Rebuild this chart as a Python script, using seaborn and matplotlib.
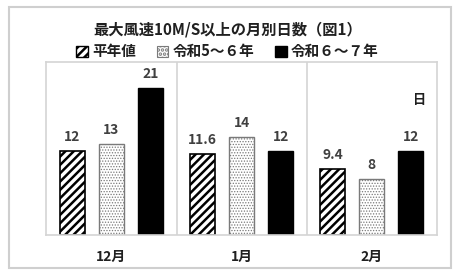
import matplotlib
matplotlib.use("Agg")
import matplotlib.pyplot as plt
import matplotlib.patches as mpatches
import seaborn as sns
import pandas as pd

months = ["12月", "1月", "2月"]
series = ["平年値", "令和5～６年", "令和６～７年"]
normal = [12, 11.6, 9.4]
r5_6 = [13, 14, 8]
r6_7 = [21, 12, 12]
value_labels = [["12", "11.6", "9.4"], ["13", "14", "8"], ["21", "12", "12"]]

sns.set_theme(style="white")
plt.rcParams["font.family"] = ["Noto Sans CJK JP", "DejaVu Sans"]
plt.rcParams["hatch.linewidth"] = 1.8

rows = []
for s, vals in zip(series, [normal, r5_6, r6_7]):
    for m, v in zip(months, vals):
        rows.append({"month": m, "series": s, "value": v})
df = pd.DataFrame(rows)

fig = plt.figure(figsize=(4.55, 2.78), dpi=100)
ax = fig.add_axes([0.102, 0.156, 0.858, 0.621])

sns.barplot(data=df, x="month", y="value", hue="series", order=months,
            hue_order=series, width=0.9, gap=0.37, ax=ax, legend=False,
            errorbar=None, palette=["white", "white", "black"], saturation=1)

styles = [
    dict(facecolor="white", edgecolor="black", hatch="////", lw=1.2, hlw=1.8),
    dict(facecolor="white", edgecolor="#7a7a7a", hatch="......", lw=1.0, hlw=0.6),
    dict(facecolor="black", edgecolor="black", hatch=None, lw=1.0, hlw=1.0),
]
for cont, st in zip(ax.containers, styles):
    for p in cont:
        p.set_facecolor(st["facecolor"])
        p.set_edgecolor(st["edgecolor"])
        p.set_linewidth(st["lw"])
        if st["hatch"]:
            p.set_hatch(st["hatch"])
            if hasattr(p, "set_hatch_linewidth"):
                p.set_hatch_linewidth(st["hlw"])

for cont, labs in zip(ax.containers, value_labels):
    ax.bar_label(cont, labels=labs, padding=5, fontsize=10, fontweight="bold",
                 color="#404040")

ax.set_ylim(0, 24.7)
ax.set_xlim(-0.5, 2.5)
ax.set_yticks([])
ax.set_xticks(range(len(months)))
ax.set_xticklabels(months, fontweight="bold", fontsize=10, color="#202020")
ax.set_xlabel("")
ax.set_ylabel("")
ax.tick_params(axis="x", length=0, pad=11)
for sp in ax.spines.values():
    sp.set_visible(True)
    sp.set_color("#d4d4d4")
    sp.set_linewidth(1.2)
for xv in [0.5, 1.5]:
    ax.axvline(xv, color="#d4d4d4", lw=1.2)

ax.text(0.955, 0.78, "日", transform=ax.transAxes, ha="center", va="center",
        fontsize=9.5, fontweight="bold", color="#202020")

fig.text(0.5, 0.895, "最大風速10M/S以上の月別日数（図1）", ha="center", va="center",
         fontsize=11, fontweight="bold", color="#202020")

handles = [
    mpatches.Patch(facecolor="white", edgecolor="black", hatch="////", lw=1.0),
    mpatches.Patch(facecolor="white", edgecolor="#7a7a7a", hatch="....", lw=0.8),
    mpatches.Patch(facecolor="black", edgecolor="black", lw=1.0),
]
if hasattr(handles[1], "set_hatch_linewidth"):
    handles[1].set_hatch_linewidth(0.6)
leg = fig.legend(handles, series, loc="center", bbox_to_anchor=(0.5, 0.815),
                 ncol=3, frameon=False, handlelength=0.8, handleheight=0.8,
                 handletextpad=0.3, columnspacing=1.4,
                 prop={"family": ["Noto Sans CJK JP", "DejaVu Sans"],
                       "weight": "bold", "size": 10.5})
for t in leg.get_texts():
    t.set_color("#202020")

frame = mpatches.Rectangle((9 / 455, 10 / 278), 442 / 455, 261 / 278,
                           transform=fig.transFigure, fill=False,
                           edgecolor="#cfcfcf", lw=1.5)
fig.add_artist(frame)

fig.savefig("out.png", dpi=100, facecolor="white")
